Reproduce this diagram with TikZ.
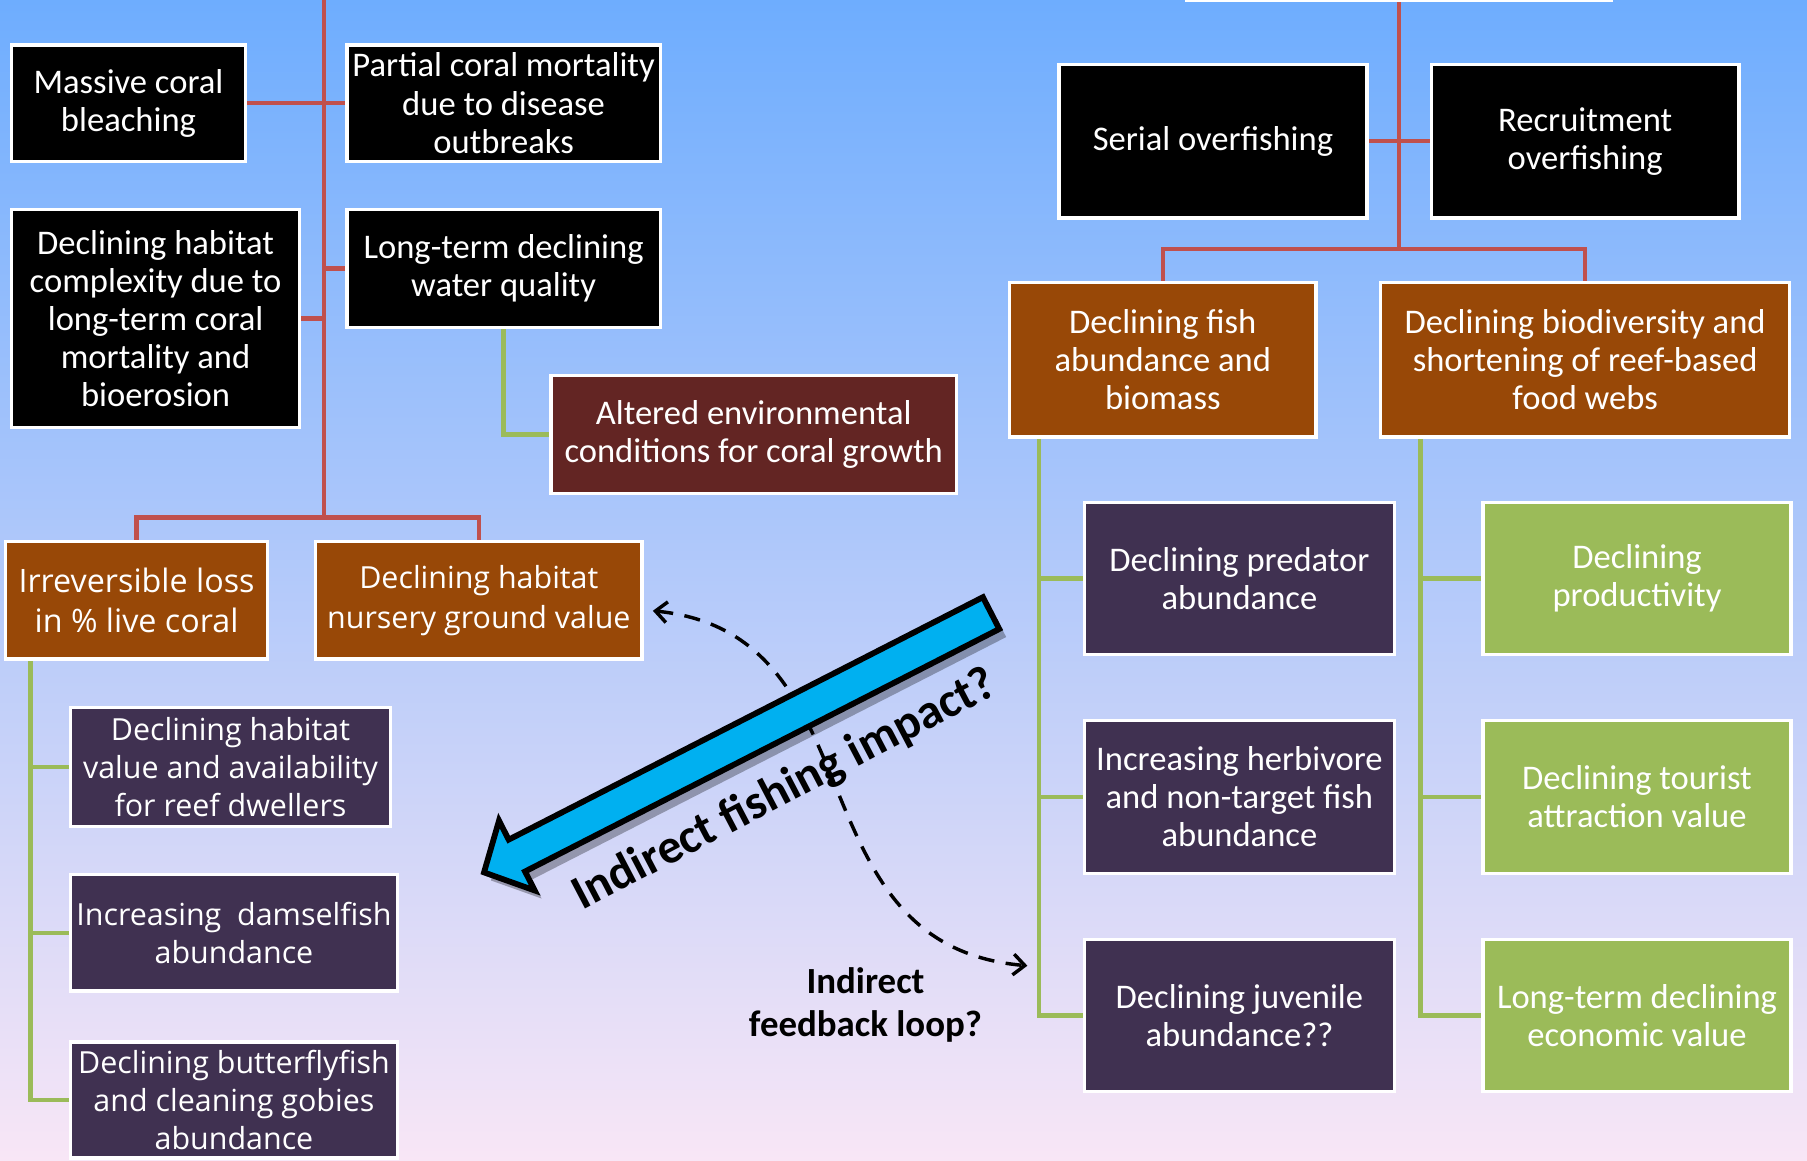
\documentclass[tikz,border=0pt]{standalone}
\usepackage{fontspec}
\setmainfont{Carlito}
\newfontfamily\osans{Open Sans}
\usetikzlibrary{arrows.meta}
\definecolor{bgtop}{HTML}{6EADFE}
\definecolor{bgmid}{HTML}{A3CAF3}
\definecolor{bgbot}{HTML}{F8E6F6}
\definecolor{brownbox}{HTML}{984807}
\definecolor{redbox}{HTML}{632523}
\definecolor{purplebox}{HTML}{403151}
\definecolor{greenbox}{HTML}{9BBB59}
\definecolor{redline}{HTML}{C0504D}
\definecolor{greenline}{HTML}{9BBB59}
\definecolor{arrowblue}{HTML}{00B0F0}
\newcommand\fcal{\fontsize{15}{16.5}\selectfont}
\newcommand\fosa{\osans\fontsize{14}{17.5}\selectfont}
\newcommand\fosn{\osans\fontsize{13.2}{17.5}\selectfont}
\newcommand\fosb{\osans\fontsize{13.2}{16.5}\selectfont}
\newcommand\fbigb{\bfseries\fontsize{21}{24}\selectfont}
\newcommand\fmidb{\bfseries\fontsize{16}{18.5}\selectfont}
\newcommand\arrowshape{(852.9,518.2) -- (441.4,728.6) -- (433,712.1) -- (420,757) -- (464,772.7) -- (455.6,756.2) -- (867.1,545.8) -- cycle}
\pgfdeclarelayer{bg}
\pgfdeclarelayer{lines}
\pgfsetlayers{bg,lines,main}
\begin{document}
\begin{tikzpicture}[x=0.5pt,y=-0.5pt,
  box/.style={draw=white, line width=1.5pt, text=white, align=center, inner sep=0pt, font=\fcal},
  sz/.style 2 args={minimum width=#1pt, minimum height=#2pt},
  redc/.style={draw=redline, line width=2pt},
  greenc/.style={draw=greenline, line width=2pt},
  loopc/.style={line width=1.5pt, dash pattern=on 7pt off 5pt, {Straight Barb[length=5pt,width=9pt,line width=1.5pt]}-{Straight Barb[length=5pt,width=9pt,line width=1.5pt]}}
]
\useasboundingbox (0,0) rectangle (1568,1007);
\begin{pgfonlayer}{bg}
\shade[top color=bgtop, middle color=bgmid, bottom color=bgbot] (0,0) rectangle (1568,1007);
\end{pgfonlayer}

% ---------- left part ----------
\node[box, fill=black, sz={101.5}{50.5}] (mass) at (111.5,89.5) {Massive coral\\bleaching};
\node[box, fill=black, sz={136}{50.5}] (partial) at (437,89.5) {Partial coral mortality\\due to disease\\outbreaks};
\node[box, fill=black, sz={125}{94.5}] (habcomp) at (135,276.5) {Declining habitat\\complexity due to\\long-term coral\\mortality and\\bioerosion};
\node[box, fill=black, sz={136}{51}] (water) at (437,233) {Long-term declining\\water quality};
\node[box, fill=redbox, sz={176}{51}] (altered) at (654,377) {Altered environmental\\conditions for coral growth};
\node[box, fill=brownbox, sz={113.5}{51}, font=\fosa] (irrev) at (118.5,521) {Irreversible loss\\in \% live coral};
\node[box, fill=brownbox, sz={141.5}{51}, font=\fosn] (nursery) at (415.5,521) {Declining habitat\\nursery ground value};
\node[box, fill=purplebox, sz={139}{51.5}, font=\fosb] (habval) at (200,665.5) {Declining habitat\\value and availability\\for reef dwellers};
\node[box, fill=purplebox, sz={142}{50.5}, font=\fosb] (damsel) at (203,809.5) {Increasing\ \ damselfish\\abundance};
\node[box, fill=purplebox, sz={142}{50.5}, font=\fosb] (butter) at (203,954.5) {Declining butterflyfish\\and cleaning gobies\\abundance};

\coordinate (ltop) at (281,-10);
\coordinate (lbot) at (281,449);
\coordinate (g1) at ([xshift=11.5pt]irrev.south west);

% ---------- right part ----------
\node[box, fill=black, sz={184}{40}] (topbox) at (1214,-40) {};
\node[box, fill=black, sz={133.5}{66.5}] (serial) at (1052.5,122.5) {Serial overfishing};
\node[box, fill=black, sz={133.5}{66.5}] (recruit) at (1375.5,122.5) {Recruitment\\overfishing};
\node[box, fill=brownbox, sz={133}{67}] (fish) at (1009,312) {Declining fish\\abundance and\\biomass};
\node[box, fill=brownbox, sz={177.5}{67}] (biodiv) at (1375.5,312) {Declining biodiversity and\\shortening of reef-based\\food webs};
\node[box, fill=purplebox, sz={134.5}{66}] (pred) at (1075.5,502) {Declining predator\\abundance};
\node[box, fill=purplebox, sz={134.5}{66.5}] (herb) at (1075.5,691.5) {Increasing herbivore\\and non-target fish\\abundance};
\node[box, fill=purplebox, sz={134.5}{66}] (juv) at (1075.5,881) {Declining juvenile\\abundance??};
\node[box, fill=greenbox, sz={133.5}{66}] (prod) at (1420.5,502) {Declining\\productivity};
\node[box, fill=greenbox, sz={133.5}{66.5}] (tour) at (1420.5,691.5) {Declining tourist\\attraction value};
\node[box, fill=greenbox, sz={133.5}{66}] (econ) at (1420.5,881) {Long-term declining\\economic value};

\coordinate (rbot) at (1214,216);
\coordinate (g2) at ([xshift=13.5pt]fish.south west);
\coordinate (g3) at ([xshift=18pt]biodiv.south west);

% ---------- connectors ----------
\begin{pgfonlayer}{lines}
\draw[redc] (ltop) -- (lbot);
\draw[redc] (mass.east) -- (partial.west);
\draw[redc] (habcomp.east) -- (habcomp.east -| lbot);
\draw[redc] (water.west) -- (water.west -| lbot);
\draw[redc] (irrev.north) |- (lbot) -| (nursery.north);
\draw[greenc] (water.south) |- (altered.west);
\draw[greenc] (g1) |- (habval.west);
\draw[greenc] (g1) |- (damsel.west);
\draw[greenc] (g1) |- (butter.west);
\draw[redc] (topbox.south) -- (rbot);
\draw[redc] (serial.east) -- (recruit.west);
\draw[redc] (fish.north) |- (rbot) -| (biodiv.north);
\draw[greenc] (g2) |- (pred.west);
\draw[greenc] (g2) |- (herb.west);
\draw[greenc] (g2) |- (juv.west);
\draw[greenc] (g3) |- (prod.west);
\draw[greenc] (g3) |- (tour.west);
\draw[greenc] (g3) |- (econ.west);
\end{pgfonlayer}

% ---------- feedback loop ----------
\coordinate (ds) at ([xshift=4pt,yshift=-4.5pt]nursery.east);
\coordinate (de) at ([xshift=-24pt,yshift=21.5pt]juv.west);
\draw[loopc] (ds) .. controls (765,550) and (685,820) .. (de);

% ---------- big arrow ----------
\fill[black, opacity=0.3, shift={(6,7)}] \arrowshape;
\draw[fill=arrowblue, draw=black, line width=2.5pt, line join=miter] \arrowshape;

\node[rotate=27.6, font=\fbigb, text=black] (fi) at (681,686) {Indirect fishing impact?};

\node[align=center, font=\fmidb, text=black] (fb) at (751,872) {Indirect\\feedback loop?};
\end{tikzpicture}
\end{document}
